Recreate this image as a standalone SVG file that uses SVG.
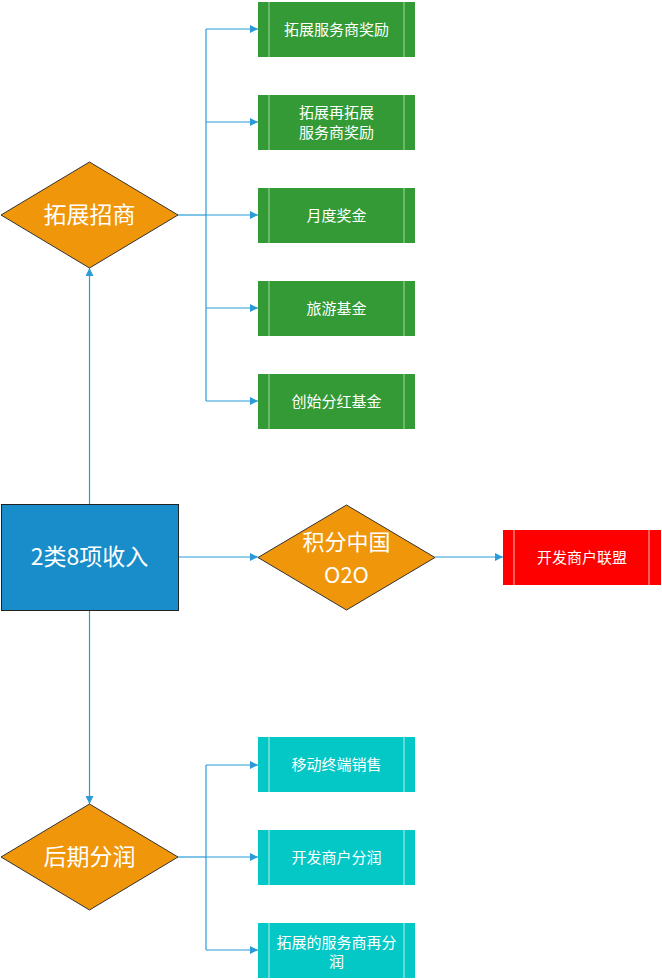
<svg xmlns="http://www.w3.org/2000/svg" width="662" height="980" viewBox="0 0 662 980">
<style>
.t{font-family:"Noto Sans CJK SC","Microsoft YaHei",sans-serif;fill:#fff;text-anchor:middle;dominant-baseline:central}
.s{font-size:15px}
.l{font-size:23px}
.c{fill:none;stroke:#2a9bd8;stroke-width:1.2}
.dia{fill:#f0960a;stroke:#333;stroke-width:1}
.g{fill:#349a35}
.gi{stroke:#8fcf8f;stroke-width:1.2}
.tq{fill:#03c8c6}
.ti{stroke:#9ae8e6;stroke-width:1.2}
.rd{fill:#ff0000}
.ri{stroke:#ff9a9a;stroke-width:1.2}
</style>
<defs>
<marker id="a" viewBox="0 0 10 10" refX="10" refY="5" markerWidth="8" markerHeight="8" markerUnits="userSpaceOnUse" orient="auto">
<path d="M0,0 L10,5 L0,10 z" fill="#2a9bd8"/>
</marker>
</defs>
<g id="connectors">
<path class="c" d="M178,215 H206"/>
<path class="c" d="M206,29 V401"/>
<path class="c" marker-end="url(#a)" d="M206,29 H258"/>
<path class="c" marker-end="url(#a)" d="M206,122 H258"/>
<path class="c" marker-end="url(#a)" d="M206,215 H258"/>
<path class="c" marker-end="url(#a)" d="M206,308 H258"/>
<path class="c" marker-end="url(#a)" d="M206,401 H258"/>
<path class="c" marker-end="url(#a)" d="M89.5,504 V268"/>
<path class="c" marker-end="url(#a)" d="M89.5,610 V804"/>
<path class="c" marker-end="url(#a)" d="M178,557 H258"/>
<path class="c" marker-end="url(#a)" d="M435,557 H503"/>
<path class="c" d="M178,857 H206"/>
<path class="c" d="M206,765 V950"/>
<path class="c" marker-end="url(#a)" d="M206,765 H258"/>
<path class="c" marker-end="url(#a)" d="M206,857 H258"/>
<path class="c" marker-end="url(#a)" d="M206,950 H258"/>
</g>
<g id="n1"><rect class="g" x="258" y="2" width="157" height="55"/><path class="gi" d="M269,2V57M404,2V57"/><text class="t s" x="336.5" y="28">拓展服务商奖励</text></g>
<g id="n2"><rect class="g" x="258" y="95" width="157" height="55"/><path class="gi" d="M269,95V150M404,95V150"/><text class="t s" x="336.5" y="111"><tspan x="336.5">拓展再拓展</tspan><tspan x="336.5" dy="20">服务商奖励</tspan></text></g>
<g id="n3"><rect class="g" x="258" y="188" width="157" height="55"/><path class="gi" d="M269,188V243M404,188V243"/><text class="t s" x="336.5" y="214">月度奖金</text></g>
<g id="n4"><rect class="g" x="258" y="281" width="157" height="55"/><path class="gi" d="M269,281V336M404,281V336"/><text class="t s" x="336.5" y="307">旅游基金</text></g>
<g id="n5"><rect class="g" x="258" y="374" width="157" height="55"/><path class="gi" d="M269,374V429M404,374V429"/><text class="t s" x="336.5" y="400">创始分红基金</text></g>
<g id="d1"><polygon class="dia" points="1,215 89.5,162 178,215 89.5,268"/><text class="t l" x="89.5" y="213">拓展招商</text></g>
<g id="root"><rect x="1.5" y="504.5" width="177" height="106" fill="#188dc9" stroke="#222" stroke-width="1"/><text class="t l" x="89.5" y="555">2类8项收入</text></g>
<g id="d2"><polygon class="dia" points="258,557.5 346.5,505 435,557.5 346.5,610"/><text class="t" style="font-size:22px" x="346.5" y="540"><tspan x="346.5">积分中国</tspan><tspan x="346.5" dy="32.5">O2O</tspan></text></g>
<g id="r1"><rect class="rd" x="503" y="530" width="158" height="55"/><path class="ri" d="M514,530V585M649,530V585"/><text class="t s" x="582" y="556">开发商户联盟</text></g>
<g id="d3"><polygon class="dia" points="1,857 89.5,804 178,857 89.5,910"/><text class="t l" x="89.5" y="855">后期分润</text></g>
<g id="t1"><rect class="tq" x="258" y="737" width="157" height="55"/><path class="ti" d="M269,737V792M404,737V792"/><text class="t s" x="336.5" y="763.5">移动终端销售</text></g>
<g id="t2"><rect class="tq" x="258" y="830" width="157" height="55"/><path class="ti" d="M269,830V885M404,830V885"/><text class="t s" x="336.5" y="856">开发商户分润</text></g>
<g id="t3"><rect class="tq" x="258" y="923" width="157" height="55"/><path class="ti" d="M269,923V978M404,923V978"/><text class="t s" x="336.5" y="940.5"><tspan x="336.5">拓展的服务商再分</tspan><tspan x="336.5" dy="19">润</tspan></text></g>
</svg>
